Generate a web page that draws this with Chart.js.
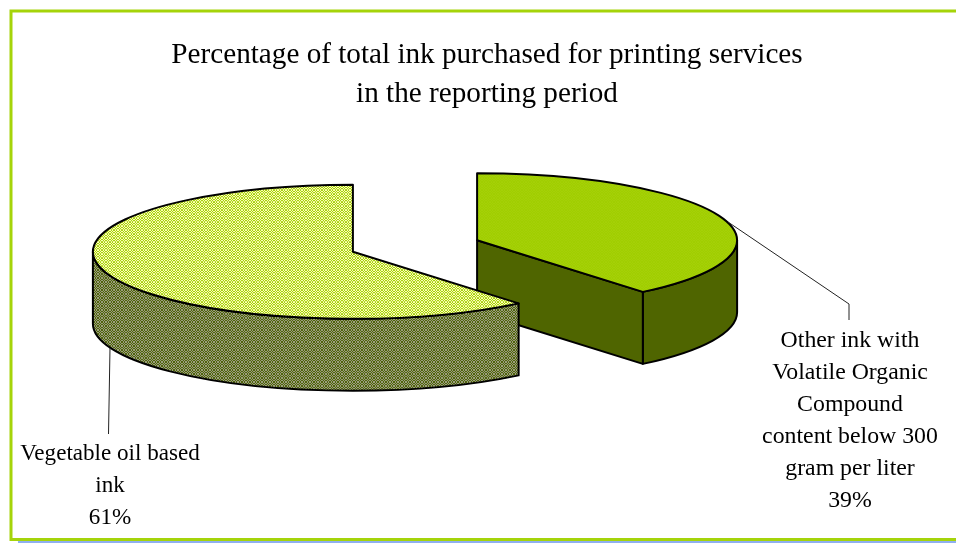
<!DOCTYPE html>
<html lang="en">
<head>
  <meta charset="UTF-8">
  <title>Ink purchased for printing services</title>
  <script src="https://cdn.jsdelivr.net/npm/chart.js"></script>
  <style>
    html, body { margin: 0; padding: 0; background: #fff; overflow: hidden; }
    canvas { display: block; }
  </style>
</head>
<body>
  <canvas id="inkChart" width="956" height="543"></canvas>

  <script>
    const titleLines = ['Percentage of total ink purchased for printing services', 'in the reporting period'];
    const categories = ['Other ink with Volatile Organic Compound content below 300 gram per liter', 'Vegetable oil based ink'];
    const shares = [39, 61];

    // wrapped the way the original labels wrap
    const labelLines = [
      ['Other ink with', 'Volatile Organic', 'Compound', 'content below 300', 'gram per liter'],
      ['Vegetable oil based', 'ink']
    ];

    const SERIF = '"Liberation Serif", "Times New Roman", serif';
    const TILT = 67 / 260;      // squash of the pie disc
    const DEPTH = 72;           // height of the pie wall
    const PIE_X = 415, PIE_Y = 246;
    const RADIUS = 260;
    const EXPLODE = 66;

    // 8px checker shrunk by 3, so it beats a little like the rescaled original
    function dither(a, b, squash) {
      const tile = document.createElement('canvas');
      tile.width = tile.height = 8;
      const c = tile.getContext('2d');
      c.fillStyle = a;
      c.fillRect(0, 0, 8, 8);
      c.fillStyle = b;
      c.fillRect(0, 0, 4, 4);
      c.fillRect(4, 4, 4, 4);
      const pattern = document.createElement('canvas').getContext('2d').createPattern(tile, 'repeat');
      pattern.setTransform(new DOMMatrix().scale(1 / 3, 1 / (3 * squash)));
      return pattern;
    }

    const ctx = document.getElementById('inkChart').getContext('2d');
    const faceGreen = dither('#a0ce00', '#a5d008', TILT);
    const faceLight = dither('#a6d10c', '#fdfeb8', TILT);
    const wallLight = dither('#50650a', '#9a9c80', 1);

    // centre of a slice's top face on the page
    function apex(chart, arc) {
      const area = chart.chartArea;
      return {
        x: PIE_X + arc.x - (area.left + area.right) / 2,
        y: PIE_Y + (arc.y - (area.top + area.bottom) / 2) * TILT
      };
    }

    const pie3d = {
      id: 'pie3d',
      afterDatasetsUpdate(chart) {
        // explode by moving the arcs: the offset option also grows their radius
        chart.getDatasetMeta(0).data.forEach(arc => {
          const mid = (arc.startAngle + arc.endAngle) / 2;
          arc.x += Math.cos(mid) * EXPLODE;
          arc.y += Math.sin(mid) * EXPLODE;
        });
      },
      beforeDraw(chart) {
        const c = chart.ctx;
        c.save();
        c.fillStyle = '#8fb0f0';
        c.fillRect(18, 541, 938, 2);
        c.strokeStyle = '#a5d40a';
        c.lineWidth = 3;
        c.beginPath();
        c.moveTo(956, 11);
        c.lineTo(11, 11);
        c.lineTo(11, 539.5);
        c.lineTo(956, 539.5);
        c.stroke();
        c.restore();
      },
      beforeDatasetsDraw(chart) {
        const c = chart.ctx;
        c.save();
        c.strokeStyle = '#000';
        c.lineWidth = 2;
        c.lineJoin = 'round';
        chart.getDatasetMeta(0).data.forEach((arc, i) => {
          const p = apex(chart, arc);
          const wall = i === 0 ? '#4f6500' : wallLight;
          const a0 = Math.max(arc.startAngle, 0);
          const a1 = Math.min(arc.endAngle, Math.PI);
          c.fillStyle = wall;
          if (a1 > a0) {
            c.beginPath();
            c.ellipse(p.x, p.y, RADIUS, RADIUS * TILT, 0, a0, a1);
            c.ellipse(p.x, p.y + DEPTH, RADIUS, RADIUS * TILT, 0, a1, a0, true);
            c.closePath();
            c.fill();
            c.stroke();
          }
          // cut face towards the viewer
          if (Math.cos(arc.endAngle) > 0.001) {
            const ex = p.x + Math.cos(arc.endAngle) * RADIUS;
            const ey = p.y + Math.sin(arc.endAngle) * RADIUS * TILT;
            c.beginPath();
            c.moveTo(p.x, p.y);
            c.lineTo(ex, ey);
            c.lineTo(ex, ey + DEPTH);
            c.lineTo(p.x, p.y + DEPTH);
            c.closePath();
            c.fill();
            c.stroke();
          }
        });
        c.restore();
      },
      beforeDatasetDraw(chart) {
        const c = chart.ctx;
        const area = chart.chartArea;
        c.save();
        c.translate(PIE_X, PIE_Y);
        c.scale(1, TILT);
        c.translate(-(area.left + area.right) / 2, -(area.top + area.bottom) / 2);
      },
      afterDatasetDraw(chart) {
        chart.ctx.restore();
      },
      afterDatasetsDraw(chart) {
        const c = chart.ctx;
        c.save();
        c.strokeStyle = '#000';
        c.lineWidth = 2;
        c.lineJoin = 'round';
        chart.getDatasetMeta(0).data.forEach(arc => {
          const p = apex(chart, arc);
          c.beginPath();
          c.moveTo(p.x, p.y);
          c.ellipse(p.x, p.y, RADIUS, RADIUS * TILT, 0, arc.startAngle, arc.endAngle);
          c.closePath();
          c.stroke();
        });
        // leader lines
        c.lineWidth = 1;
        c.strokeStyle = '#222';
        c.beginPath();
        c.moveTo(728, 222);
        c.lineTo(849, 304);
        c.lineTo(849, 320);
        c.moveTo(110, 348);
        c.lineTo(108.5, 434);
        c.stroke();
        // slice labels
        c.fillStyle = '#000';
        c.textAlign = 'center';
        c.textBaseline = 'middle';
        const places = [{ x: 850, y: 341, size: 23.8 }, { x: 110, y: 454, size: 23.1 }];
        labelLines.forEach((lines, i) => {
          c.font = places[i].size + 'px ' + SERIF;
          const rows = lines.concat(shares[i] + '%');
          rows.forEach((row, j) => c.fillText(row, places[i].x, places[i].y + j * 32));
        });
        c.restore();
      }
    };

    new Chart(ctx, {
      type: 'pie',
      data: {
        labels: categories,
        datasets: [{
          data: shares,
          backgroundColor: [faceGreen, faceLight],
          borderWidth: 0,
          clip: false
        }]
      },
      options: {
        responsive: false,
        animation: false,
        radius: RADIUS,
        layout: { padding: { left: 18 } },
        plugins: {
          legend: { display: false },
          tooltip: { enabled: false },
          title: {
            display: true,
            text: titleLines,
            color: '#000',
            font: { family: SERIF, size: 29.2, weight: 'normal', lineHeight: 1.336 },
            padding: { top: 36, bottom: 10 }
          }
        }
      },
      plugins: [pie3d]
    });
  </script>
</body>
</html>
